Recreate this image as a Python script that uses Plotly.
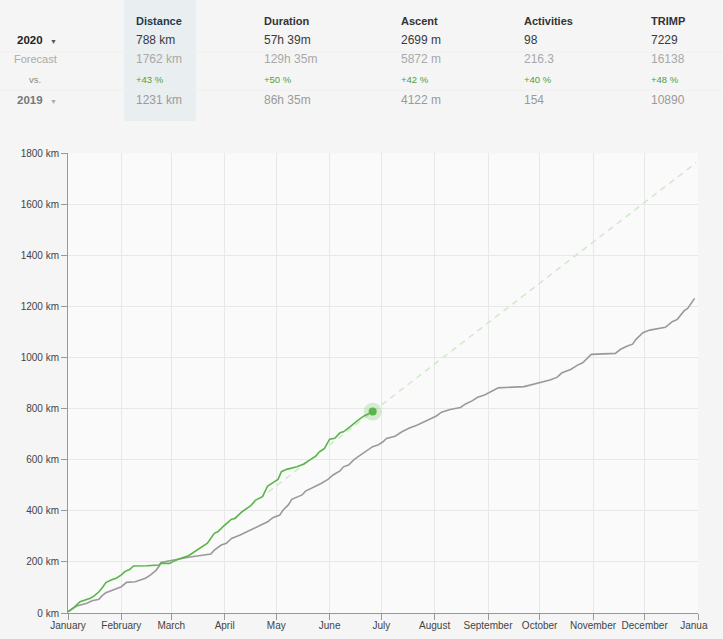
import pandas as pd
import plotly.graph_objects as go

# ---------------- data ----------------
month_labels = ["January", "February", "March", "April", "May", "June", "July",
                "August", "September", "October", "November", "December", "January"]
month_starts = ["2020-01-01", "2020-02-01", "2020-03-01", "2020-04-01", "2020-05-01",
                "2020-06-01", "2020-07-01", "2020-08-01", "2020-09-01", "2020-10-01",
                "2020-11-01", "2020-12-01", "2021-01-01"]
y_ticks = [0, 200, 400, 600, 800, 1000, 1200, 1400, 1600, 1800]

# cumulative distance 2020 (day of year offset, km)
days_2020 = [0, 4, 7, 10, 13, 15, 18, 20, 22, 25, 28, 31, 33, 36, 38, 46, 53, 54, 59, 61,
             64, 70, 77, 81, 85, 87, 91, 95, 97, 101, 106, 109, 113, 116, 120, 122, 124, 127,
             133, 137, 141, 144, 146, 149, 152, 155, 158, 160, 164, 168, 172, 177]
km_2020 = [5, 25, 44, 51, 58, 66, 83, 100, 119, 129, 136, 149, 162, 171, 184, 185, 188, 194,
           194, 201, 210, 224, 253, 273, 312, 318, 344, 367, 370, 396, 419, 442, 455, 497, 514,
           523, 553, 562, 572, 583, 601, 614, 631, 644, 680, 684, 705, 709, 729, 752, 771, 788]

# cumulative distance 2019 (day of year offset, km)
days_2019 = [0, 5, 11, 14, 18, 20, 22, 26, 31, 34, 39, 45, 48, 51, 53, 54, 62, 65, 70, 77,
             83, 85, 89, 92, 95, 100, 105, 108, 112, 116, 119, 123, 125, 128, 130, 133, 136,
             138, 143, 147, 151, 154, 158, 160, 163, 166, 169, 173, 177, 180, 183, 185, 190,
             194, 198, 203, 207, 210, 214, 217, 222, 228, 231, 235, 238, 242, 247, 250, 265,
             274, 280, 284, 287, 292, 296, 299, 301, 304, 318, 321, 325, 328, 330, 334, 338,
             347, 351, 354, 358, 360, 364]
km_2019 = [5, 27, 38, 48, 54, 69, 79, 90, 103, 120, 122, 136, 149, 166, 184, 198, 208, 214,
           218, 225, 231, 246, 266, 273, 292, 305, 321, 331, 344, 357, 373, 383, 403, 423, 445,
           455, 462, 477, 492, 507, 523, 540, 556, 572, 579, 599, 614, 631, 651, 657, 670, 683,
           692, 709, 723, 736, 748, 758, 771, 786, 796, 804, 818, 831, 844, 853, 872, 881, 886,
           900, 912, 922, 940, 953, 970, 979, 993, 1012, 1016, 1032, 1045, 1052, 1071, 1097,
           1107, 1118, 1140, 1149, 1183, 1192, 1231]

# forecast line
forecast_days = [91, 177, 365]
forecast_km = [342, 788, 1762]

# header table
columns = ["Distance", "Duration", "Ascent", "Activities", "TRIMP"]
row_2020 = ["788 km", "57h 39m", "2699 m", "98", "7229"]
row_forecast = ["1762 km", "129h 35m", "5872 m", "216.3", "16138"]
row_vs = ["+43 %", "+50 %", "+42 %", "+40 %", "+48 %"]
row_2019 = ["1231 km", "86h 35m", "4122 m", "154", "10890"]

# ---------------- helpers ----------------
W, H = 723, 639
L, R, T, B = 68, 25, 153, 26
PW, PH = W - L - R, H - T - B


def px(x):
    return (x - L) / PW


def py(y):
    return (H - B - y) / PH


base = pd.Timestamp("2020-01-01")


def to_dates(days):
    return [base + pd.Timedelta(days=d) for d in days]


GREEN = "#5ab54a"
GRAY = "#9a9a9a"

fig = go.Figure()
fig.add_trace(go.Scatter(x=to_dates(forecast_days), y=forecast_km, mode="lines",
                         line=dict(color="#d0e9c9", width=1.5, dash="6px,5px"),
                         hoverinfo="skip", showlegend=False))
fig.add_trace(go.Scatter(x=to_dates(days_2019), y=km_2019, mode="lines",
                         line=dict(color=GRAY, width=1.6), showlegend=False))
fig.add_trace(go.Scatter(x=to_dates(days_2020), y=km_2020, mode="lines",
                         line=dict(color=GREEN, width=1.6), showlegend=False))
fig.add_trace(go.Scatter(x=to_dates(days_2020[-1:]), y=km_2020[-1:], mode="markers",
                         marker=dict(size=18, color="rgba(90,181,74,0.22)"),
                         showlegend=False))
fig.add_trace(go.Scatter(x=to_dates(days_2020[-1:]), y=km_2020[-1:], mode="markers",
                         marker=dict(size=8, color=GREEN), showlegend=False))

shapes = []
# highlighted Distance column
shapes.append(dict(type="rect", xref="paper", yref="paper", x0=px(124), x1=px(196),
                   y0=py(121), y1=py(0), fillcolor="#e9eef0", line=dict(width=0),
                   layer="below"))
for yy in (52, 90):
    shapes.append(dict(type="line", xref="paper", yref="paper", x0=px(0), x1=px(723),
                       y0=py(yy), y1=py(yy), line=dict(color="#efefef", width=1),
                       layer="below"))
# clip of the last month label at the container edge
shapes.append(dict(type="rect", xref="paper", yref="paper", x0=px(708), x1=px(730),
                   y0=py(640), y1=py(616), fillcolor="#f5f5f5", line=dict(width=0),
                   layer="above"))

ann = []
col_x = [134, 262, 399, 522, 649]
SANS = "Liberation Sans, Arial, sans-serif"


def add(text, x, y, size, color, bold=False, xanchor="left"):
    ann.append(dict(text=f"<b>{text}</b>" if bold else text, x=px(x), y=py(y),
                    xref="paper", yref="paper", showarrow=False, xanchor=xanchor,
                    yanchor="middle", font=dict(family=SANS, size=size, color=color)))


for i, c in enumerate(columns):
    add(c, col_x[i], 21, 11, "#24394a" if i == 0 else "#333333", bold=True)
    add(row_2020[i], col_x[i], 40, 12, "#3a3a3a")
    add(row_forecast[i], col_x[i], 59, 12, "#a8a8a8")
    add(row_vs[i], col_x[i], 80, 9.5, "#4e9f3d")
    add(row_2019[i], col_x[i], 100, 12, "#9a9a9a")

add("2020", 15, 40, 11.5, "#222222", bold=True)
add("▼", 53, 41, 7, "#555555", xanchor="center")
add("Forecast", 35, 59, 11, "#aaaaaa", xanchor="center")
add("vs.", 35, 80, 9.5, "#888888", xanchor="center")
add("2019", 15, 100, 11.5, "#777777", bold=True)
add("▼", 53, 101, 7, "#aaaaaa", xanchor="center")

fig.update_layout(
    width=W, height=H,
    margin=dict(l=L, r=R, t=T, b=B, pad=0),
    paper_bgcolor="#f5f5f5", plot_bgcolor="#fafafa",
    font=dict(family=SANS, size=10, color="#444444"),
    shapes=shapes, annotations=ann, showlegend=False,
    xaxis=dict(type="date", range=[month_starts[0], month_starts[-1]],
               tickmode="array", tickvals=month_starts, ticktext=month_labels,
               showgrid=True, gridcolor="#e8e8e8", gridwidth=1,
               showline=True, linecolor="#999999", linewidth=1,
               ticks="outside", ticklen=6, tickcolor="#999999", automargin=False,
               ticklabelstandoff=-3,
               tickfont=dict(size=10, color="#444444"), zeroline=False, fixedrange=True),
    yaxis=dict(range=[0, 1800], tickmode="array", tickvals=y_ticks,
               ticktext=[f"{v} km" for v in y_ticks],
               showgrid=True, gridcolor="#e8e8e8", gridwidth=1,
               showline=True, linecolor="#999999", linewidth=1,
               ticks="outside", ticklen=6, tickcolor="#999999", automargin=False,
               tickfont=dict(size=10, color="#444444"), zeroline=False, fixedrange=True),
)

fig.write_html("out.html")
